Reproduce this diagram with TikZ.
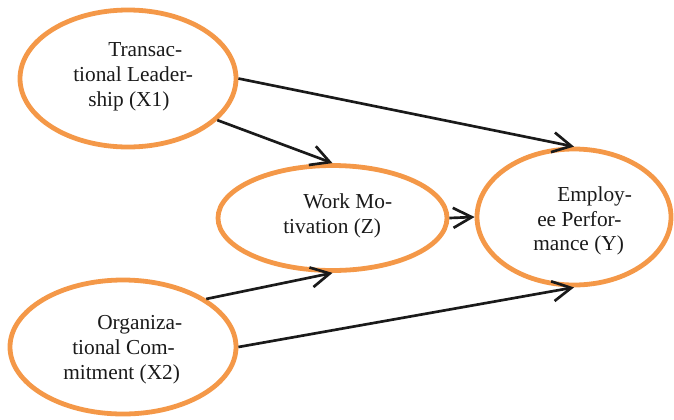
\documentclass[tikz,border=0pt]{standalone}
\usepackage{fontspec}
\setmainfont{Liberation Serif}
\usetikzlibrary{arrows.meta,shapes.geometric}
\definecolor{ora}{RGB}{244,152,72}
\definecolor{ink}{RGB}{26,26,26}
\begin{document}
\begin{tikzpicture}[x=0.75pt,y=-0.75pt,
  latent/.style={ellipse,draw=ora,line width=3.6pt,inner sep=0pt},
  lbl/.style={align=left,anchor=west,inner sep=0pt,text=ink,font=\fontsize{16pt}{18.6pt}\selectfont},
  effect/.style={draw=ink,line width=2pt,-{Straight Barb[length=14pt,width=15pt]}}]
\useasboundingbox (0,0) rectangle (674,419);
% ellipses
\node[latent,minimum width=162pt,minimum height=102.75pt] (x1) at (128,78.5) {};
\node[latent,minimum width=171.75pt,minimum height=78.75pt] (z) at (332.5,218) {};
\node[latent,minimum width=145.5pt,minimum height=102pt] (y) at (574,217) {};
\node[latent,minimum width=169.5pt,minimum height=100.5pt] (x2) at (123,347) {};
% labels
\node[lbl] (tx1) at (73,77) {\hspace*{26.25pt}Transac-\\tional Leader-\\\hspace*{11.25pt}ship (X1)};
\node[lbl] (tz) at (283,216) {\hspace*{15pt}Work Mo-\\tivation (Z)};
\node[lbl] (ty) at (533,221) {\hspace*{18pt}Employ-\\\hspace*{3pt}ee Perfor-\\mance (Y)};
\node[lbl] (tx2) at (63,349.5) {\hspace*{25.5pt}Organiza-\\\hspace*{6.75pt}tional Com-\\mitment (X2)};
% paths
\draw[effect] (x1.east) -- (y.north);
\draw[effect] (x1.-25) -- (z.north);
\draw[effect] (z.east) -- (y.west);
\draw[effect] (x2.30) -- (z.south);
\draw[effect] (x2.east) -- (y.south);
\end{tikzpicture}
\end{document}
